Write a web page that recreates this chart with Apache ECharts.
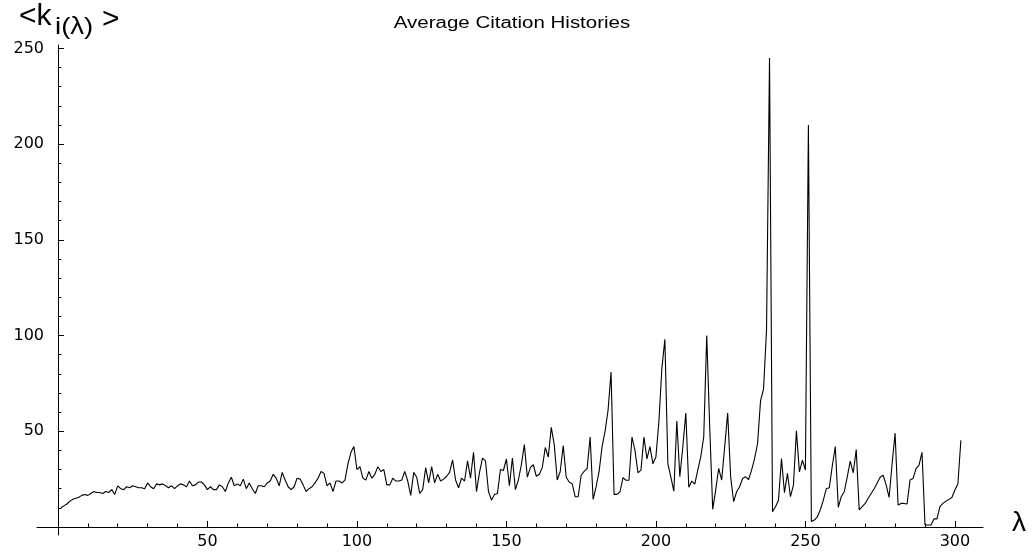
<!DOCTYPE html>
<html>
<head>
<meta charset="utf-8">
<script src="https://cdn.jsdelivr.net/npm/echarts@6/dist/echarts.min.js"></script>
<style>
html,body{margin:0;padding:0;background:#fff;}
#chart{width:1032px;height:554px;}
</style>
</head>
<body>
<div id="chart"></div>
<script>
// λ runs from firstLambda, one step per value
const firstLambda = 1;
const citationValues = [
  10, 11, 12, 13.5, 14.5, 15, 15.5, 16.5, 17, 16.5,
  17.5, 18.5, 18, 18, 17.5, 18.5, 18, 19.5, 17, 21.5,
  20, 19.5, 21, 20.5, 21.5, 21, 20.5, 20.5, 20, 23,
  21, 20, 22.5, 22, 22.5, 21.5, 20.5, 21.5, 20, 21.5,
  22.5, 22, 21, 24, 21.5, 22, 23.5, 23.5, 22, 19.5,
  21, 19.5, 19.5, 22, 21, 18.5, 23, 26, 21.5, 22.5,
  21.5, 25, 20, 23, 20, 17.5, 21.5, 21.5, 21, 23,
  24, 27.5, 25.5, 21.5, 28.5, 24.5, 21, 19.5, 21, 25.5,
  25, 22, 18.5, 20, 21, 23, 25.5, 29, 28, 21.5,
  23, 18.5, 24, 24, 23, 24.5, 33, 39, 42, 30,
  31.5, 25.5, 24.5, 29, 25.5, 27.5, 31.5, 29, 30, 22,
  22, 25.5, 24, 24, 24.5, 29, 24, 16.5, 28.5, 26,
  17.5, 19.5, 31, 23, 31.5, 23, 27.5, 24, 25, 26.5,
  28.5, 35, 24.5, 20.5, 25.5, 24, 34.5, 25.5, 39, 18.5,
  28.5, 36, 34.5, 18.5, 14, 17, 17.5, 30, 29.5, 35.5,
  21.5, 36, 19.5, 24.5, 32.5, 43, 26, 31, 32.5, 26.5,
  27.5, 31, 41.5, 36.5, 52, 43, 24.5, 29, 42.5, 26,
  23.5, 22.5, 15.8, 15.8, 27, 29, 30.5, 47, 14.4, 21,
  29, 42, 50, 61, 81, 17, 17, 18.4, 25.8, 24.4,
  24.4, 47, 40, 28.3, 29.7, 47, 35.6, 42, 33, 36.6,
  55, 83, 98, 33, 26, 18.7, 55.4, 26.2, 41.8, 59.5,
  20.7, 24, 22.4, 29.7, 36.6, 47, 100, 52, 9.2, 19.4,
  30.6, 24.5, 41.8, 59.5, 26.2, 13.2, 18.4, 21, 25.3, 26.2,
  24.8, 29.7, 35.7, 43.6, 66, 72, 103, 245, 8, 10.6,
  14, 35.7, 17.9, 28, 15.8, 21.9, 50.2, 28.8, 34.9, 29.7,
  210, 2.8, 3.6, 5.3, 9, 14, 20, 20.5, 32, 42,
  10.3, 15.8, 18.4, 26.2, 34.4, 28.3, 40.4, 8.9, 10.6, 12.3,
  15, 17.5, 20, 23, 26, 27, 22, 15.4, 33, 49,
  11.5, 12.3, 12.3, 12, 24.5, 25.3, 30.5, 32.3, 39, 1,
  1, 1, 4.2, 4.2, 10.6, 12.3, 13.5, 14.4, 15.4, 19.3,
  22.4, 45.3
];
const xMinorTicks = [10,20,30,40,50,60,70,80,90,100,110,120,130,140,150,160,170,180,190,200,210,220,230,240,250,260,270,280,290,300];
const xMajorTicks = [50,100,150,200,250,300];
const yMinorTicks = [10,20,30,40,50,60,70,80,90,100,110,120,130,140,150,160,170,180,190,200,210,220,230,240,250];
const yMajorTicks = [50,100,150,200,250];
const titleText = 'Average Citation Histories';
const xName = 'λ';

const FONT = '"Liberation Sans", Arial, Helvetica, sans-serif';
const TICKFONT = '"DejaVu Sans", "Liberation Sans", Arial, sans-serif';
const seriesData = citationValues.map((v, i) => [firstLambda + i, v]);

const XMIN = -7, XMAX = 309.4, YMIN = -4.2, YMAX = 251.8;
const axisColor = '#000';

const chart = echarts.init(document.getElementById('chart'), null, {renderer: 'canvas'});
chart.setOption({
  animation: false,
  backgroundColor: '#fff',
  grid: {left: 37, right: 49, top: 45, bottom: 19, containLabel: false, outerBoundsMode: 'none'},
  xAxis: [
    {
      type: 'value', min: XMIN, max: XMAX, position: 'bottom',
      axisLine: {show: true, onZero: true, onZeroAxisIndex: 0, lineStyle: {color: axisColor, width: 1}},
      axisTick: {show: true, inside: true, length: 3.5, customValues: xMinorTicks, lineStyle: {color: axisColor, width: 1}},
      axisLabel: {show: true, customValues: xMajorTicks, color: '#000', fontSize: 16, fontFamily: TICKFONT, margin: -1},
      splitLine: {show: false}
    },
    {
      type: 'value', min: XMIN, max: XMAX, position: 'bottom',
      axisLine: {show: false, onZero: true, onZeroAxisIndex: 0},
      axisTick: {show: true, inside: true, length: 6, customValues: xMajorTicks, lineStyle: {color: axisColor, width: 1}},
      axisLabel: {show: false},
      splitLine: {show: false}
    }
  ],
  yAxis: [
    {
      type: 'value', min: YMIN, max: YMAX, position: 'left',
      axisLine: {show: true, onZero: true, onZeroAxisIndex: 0, lineStyle: {color: axisColor, width: 1}},
      axisTick: {show: true, inside: true, length: 3.5, customValues: yMinorTicks, lineStyle: {color: axisColor, width: 1}},
      axisLabel: {show: true, customValues: yMajorTicks, color: '#000', fontSize: 16, fontFamily: TICKFONT, margin: -7},
      splitLine: {show: false}
    },
    {
      type: 'value', min: YMIN, max: YMAX, position: 'left',
      axisLine: {show: false, onZero: true, onZeroAxisIndex: 0},
      axisTick: {show: true, inside: true, length: 6, customValues: yMajorTicks, lineStyle: {color: axisColor, width: 1}},
      axisLabel: {show: false},
      splitLine: {show: false}
    }
  ],
  graphic: [
    {type: 'text', x: 512, y: 24, scaleX: 1.28, style: {text: titleText, fill: '#000', font: '16px ' + FONT, align: 'center', verticalAlign: 'middle'}},
    {type: 'text', x: 19, y: 17, style: {text: '<k', fill: '#000', font: '30px ' + FONT, align: 'left', verticalAlign: 'middle'}},
    {type: 'text', x: 55, y: 27, scaleX: 1.15, style: {text: 'i(λ)', fill: '#000', font: '24px ' + FONT, align: 'left', verticalAlign: 'middle'}},
    {type: 'text', x: 102, y: 20, style: {text: '>', fill: '#000', font: '30px ' + FONT, align: 'left', verticalAlign: 'middle'}},
    {type: 'text', x: 1019, y: 523, style: {text: xName, fill: '#000', font: '28px ' + FONT, align: 'center', verticalAlign: 'middle'}}
  ],
  series: [{
    type: 'line',
    xAxisIndex: 0, yAxisIndex: 0,
    data: seriesData,
    showSymbol: false,
    symbol: 'none',
    lineStyle: {color: '#000', width: 1.1},
    clip: false
  }]
});
</script>
</body>
</html>
